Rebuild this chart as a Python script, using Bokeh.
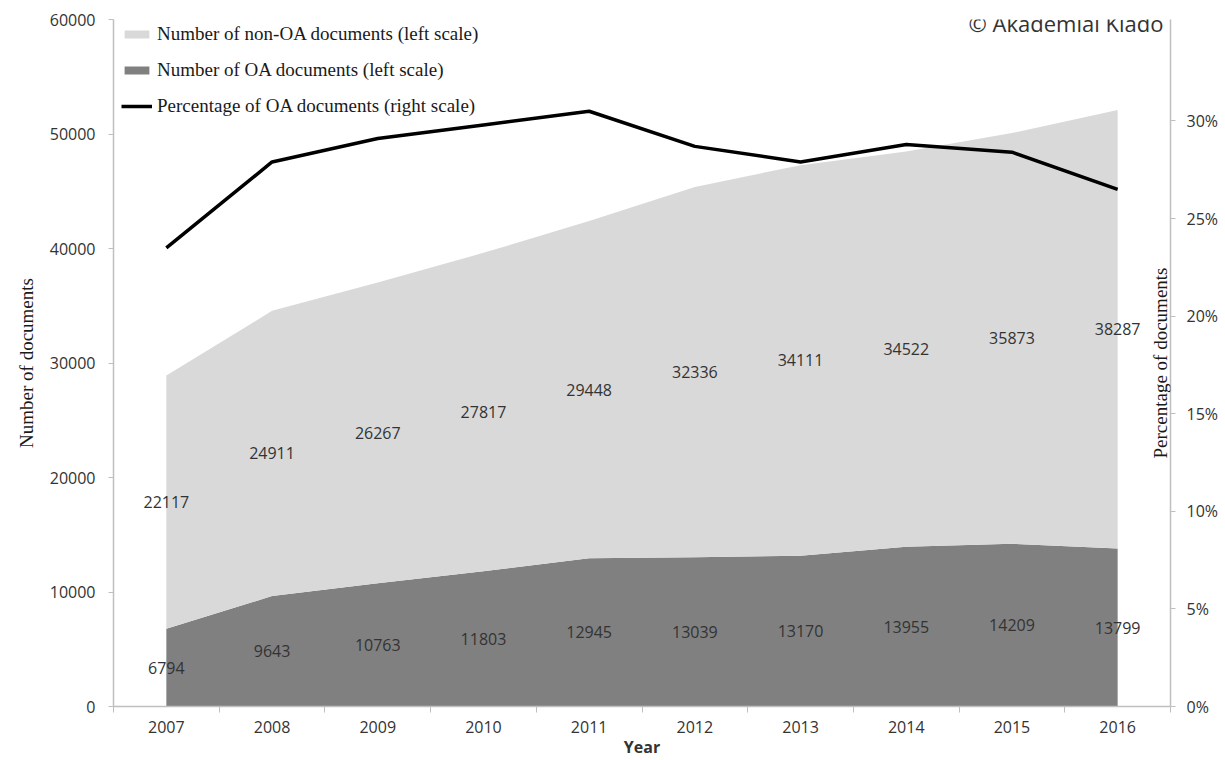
import math
import numpy as np
from bokeh.plotting import figure
from bokeh.models import (Range1d, LinearAxis, FixedTicker, NumeralTickFormatter,
                          Legend, LegendItem, Label, ColumnDataSource)
from bokeh.embed import file_html
from bokeh.resources import INLINE
from bokeh.core.properties import value

# ---- data ----
years = [2007, 2008, 2009, 2010, 2011, 2012, 2013, 2014, 2015, 2016]
oa_docs = [6794, 9643, 10763, 11803, 12945, 13039, 13170, 13955, 14209, 13799]
non_oa_docs = [22117, 24911, 26267, 27817, 29448, 32336, 34111, 34522, 35873, 38287]
oa_pct = [0.235, 0.279, 0.291, 0.298, 0.305, 0.287, 0.279, 0.288, 0.284, 0.265]
left_ticks = [0, 10000, 20000, 30000, 40000, 50000, 60000]
right_ticks = [0, 0.05, 0.10, 0.15, 0.20, 0.25, 0.30]

LIGHT = "#d9d9d9"
DARK = "#808080"
SANS = "Open Sans"
SERIF = "Liberation Serif"
TXT = "#333333"

W, H = 1225, 760
BL, BR, BT, BB = 113, 55, 19, 53
FRAME_H = H - BT - BB

oa_arr = np.array(oa_docs)
non_arr = np.array(non_oa_docs)
src = ColumnDataSource(dict(
    year=years,
    oa=oa_docs,
    non_oa=non_oa_docs,
    pct=oa_pct,
    oa_mid=(oa_arr / 2).tolist(),
    non_mid=(oa_arr + non_arr / 2).tolist(),
    oa_txt=[str(v) for v in oa_docs],
    non_txt=[str(v) for v in non_oa_docs],
))

p = figure(width=W, height=H,
           x_range=Range1d(years[0] - 0.5, years[-1] + 0.5),
           y_range=Range1d(0, 60000),
           output_backend="svg", toolbar_location=None,
           min_border_left=BL, min_border_right=BR,
           min_border_top=BT, min_border_bottom=BB)
p.extra_y_ranges = {"pct": Range1d(0, 0.352)}
p.xgrid.visible = False
p.ygrid.visible = False
p.outline_line_color = None
p.background_fill_color = "white"

areas = p.varea_stack(["oa", "non_oa"], x="year", color=[DARK, LIGHT], source=src)
r_oa, r_non = areas[0], areas[1]

r_line = p.line(x="year", y="pct", y_range_name="pct", line_color="black",
                line_width=3.5, line_join="round", source=src)

for ycol, tcol in (("non_mid", "non_txt"), ("oa_mid", "oa_txt")):
    p.text(x="year", y=ycol, text=tcol, source=src,
           text_font=value(SANS), text_font_size=value("16px"),
           text_align="center", text_baseline="middle", text_color=TXT)


def no_axis_bg(ax):
    if "background_fill_color" in ax.properties():
        ax.background_fill_color = None


# x axis
xa = p.xaxis[0]
no_axis_bg(xa)
xa.ticker = FixedTicker(ticks=years, minor_ticks=[y - 0.5 for y in years] + [years[-1] + 0.5])
xa.major_tick_out = 0
xa.major_tick_in = 0
xa.minor_tick_out = 6
xa.minor_tick_in = 0
xa.minor_tick_line_color = "#bfbfbf"
xa.axis_line_color = "#bfbfbf"
xa.axis_line_width = 1.5
xa.major_label_text_font = SANS
xa.major_label_text_font_size = "16px"
xa.major_label_text_color = TXT
xa.major_label_standoff = 8
xa.axis_label = "Year"
xa.axis_label_text_font = SANS
xa.axis_label_text_font_size = "16px"
xa.axis_label_text_font_style = "bold"
xa.axis_label_text_color = TXT
xa.axis_label_standoff = 0

# left axis
ya = p.yaxis[0]
no_axis_bg(ya)
ya.ticker = FixedTicker(ticks=left_ticks)
ya.formatter = NumeralTickFormatter(format="0")
ya.major_tick_out = 5
ya.major_tick_in = 0
ya.minor_tick_out = 0
ya.minor_tick_in = 0
ya.major_tick_line_color = "#bfbfbf"
ya.axis_line_color = "#bfbfbf"
ya.axis_line_width = 1.5
ya.major_label_text_font = SANS
ya.major_label_text_font_size = "16px"
ya.major_label_text_color = TXT
ya.major_label_standoff = 13
ya.axis_label = "Number of documents"
ya.axis_label_text_font = SERIF
ya.axis_label_text_font_size = "19px"
ya.axis_label_text_font_style = "normal"
ya.axis_label_text_color = "#1a1a1a"
ya.axis_label_standoff = 10

# right axis
ra = LinearAxis(y_range_name="pct", ticker=FixedTicker(ticks=right_ticks),
                formatter=NumeralTickFormatter(format="0%"))
no_axis_bg(ra)
ra.major_tick_out = 5
ra.major_tick_in = 0
ra.minor_tick_out = 0
ra.minor_tick_in = 0
ra.major_tick_line_color = "#bfbfbf"
ra.axis_line_color = "#bfbfbf"
ra.axis_line_width = 1.5
ra.major_label_text_font = SANS
ra.major_label_text_font_size = "16px"
ra.major_label_text_color = TXT
ra.major_label_standoff = 11
p.add_layout(ra, "right")

# right axis title drawn inside the plot, next to the axis
p.add_layout(Label(x=years[-1] + 0.5, y=30000, x_offset=0,
                   text="Percentage of documents", angle=math.pi / 2,
                   text_align="center", text_baseline="bottom",
                   text_font=SERIF, text_font_size="19px", text_color="#1a1a1a"))

# copyright in the top-right corner
p.add_layout(Label(x=855, x_units="screen", y=60000, y_offset=12,
                   text="© Akademiai Kiado", text_align="left", text_baseline="top",
                   text_font=SANS, text_font_size="22px", text_color=TXT,
                   level="overlay"))

legend = Legend(items=[
    LegendItem(label="Number of non-OA documents (left scale)", renderers=[r_non]),
    LegendItem(label="Number of OA documents (left scale)", renderers=[r_oa]),
    LegendItem(label="Percentage of OA documents (right scale)", renderers=[r_line]),
], location=(8, FRAME_H - 4 - 95), border_line_color=None, background_fill_alpha=0,
    glyph_width=31, glyph_height=10, label_standoff=5, spacing=14,
    label_height=21, padding=0, margin=0,
    label_text_font=SERIF, label_text_font_size="19px", label_text_color="#1a1a1a")
p.add_layout(legend)

open("out.html", "w").write(file_html(p, INLINE))
